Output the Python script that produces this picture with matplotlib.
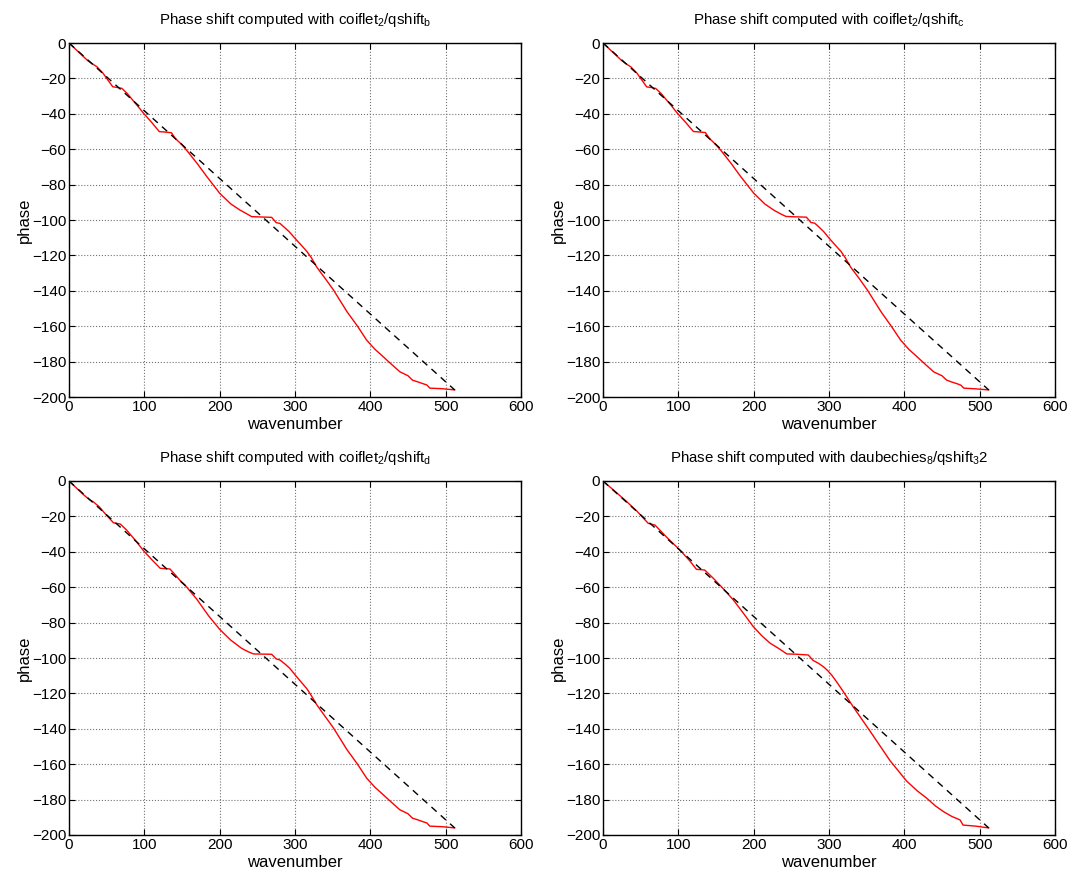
import numpy as np
import matplotlib
matplotlib.use("Agg")
import matplotlib.pyplot as plt

plt.rcParams["font.family"] = ["Liberation Sans", "DejaVu Sans"]
plt.rcParams["mathtext.default"] = "regular"

# end of the ideal (linear) phase line
LINE_X = [0, 512]
LINE_Y = [0, -196]

TITLES = [
    r"Phase shift computed with coiflet$_2$/qshift$_b$",
    r"Phase shift computed with coiflet$_2$/qshift$_c$",
    r"Phase shift computed with coiflet$_2$/qshift$_d$",
    r"Phase shift computed with daubechies$_8$/qshift$_3$2",
]

# coiflet2 / qshift_b
x_b = [0, 10, 20, 25, 30, 37, 45, 58, 65, 70, 77, 88, 99, 110, 120, 125, 136, 141,
       150, 156, 170, 183, 200, 215, 227, 236, 242.5, 255, 269, 275, 280, 285, 292,
       302, 310, 316, 322, 329, 340, 351, 369, 383, 395, 406, 417, 428, 439, 450,
       456, 462, 470, 475, 479, 495, 512]
y_b = [0, -4, -8, -10, -11.5, -13.4, -17, -24.7, -25.2, -25.6, -28.4, -34, -39.7,
       -45, -50.1, -50.2, -50.7, -53.9, -57.5, -60.5, -68, -75.5, -84.9, -91, -94.4,
       -96.5, -98.1, -98.3, -98.5, -101.5, -101.9, -103.8, -106.5, -111.3, -115,
       -117.9, -121.5, -126.7, -133, -139.5, -151.8, -160, -167.8, -173, -177.2,
       -181.5, -185.7, -188, -190.5, -191.3, -192.5, -193.2, -195, -195.3, -196]

# coiflet2 / qshift_c
x_c = [0, 10, 20, 25, 30, 37, 45, 58, 65, 70, 77, 88, 99, 110, 120, 126, 136, 141,
       150, 156, 170, 183, 200, 215, 227, 236, 243, 255, 270, 276, 281, 286, 293,
       302, 310, 316, 322, 329, 340, 351, 369, 383, 395, 406, 417, 428, 439, 450,
       456, 462, 470, 475, 479, 495, 512]
y_c = [0, -4, -8, -10, -11.6, -13.5, -17, -24.8, -25.2, -25.7, -28.5, -34, -39.8,
       -45, -50.0, -50.2, -50.6, -53.8, -57.5, -60.4, -68, -75.6, -84.8, -91, -94.5,
       -96.6, -98.0, -98.2, -98.4, -101.4, -101.8, -103.7, -106.6, -111.2, -115,
       -117.8, -121.6, -126.8, -133, -139.6, -151.8, -160.2, -167.8, -173.1, -177.3,
       -181.6, -185.8, -188, -190.4, -191.4, -192.5, -193.3, -195, -195.4, -196]

# coiflet2 / qshift_d
x_d = [0, 10, 20, 27, 32, 40, 48, 59, 64, 68, 76, 88, 99, 110, 121, 127, 134, 140,
       147, 154, 170, 185, 200, 215, 229, 238, 245, 257, 269, 275, 280, 287, 293,
       302, 310, 316, 322, 329, 340, 351, 369, 383, 395, 406, 417, 428, 439, 450,
       456, 462, 470, 475, 479, 495, 512]
y_d = [0, -4, -8, -10.5, -11.7, -14.5, -18.5, -23.6, -24.0, -24.3, -27.5, -33.5,
       -39.4, -44.5, -49.3, -49.5, -49.7, -52.5, -56, -58.8, -67, -76, -83.8, -90,
       -94.5, -96.5, -97.7, -97.8, -97.9, -100.5, -101.1, -103.5, -105.8, -110.5,
       -114.5, -117.5, -121.5, -126.5, -133, -139.5, -151.8, -160, -167.8, -173,
       -177.2, -181.5, -185.7, -188, -190.5, -191.3, -192.5, -193.2, -195, -195.3,
       -196]

# daubechies8 / qshift_3 2
x_3 = [0, 15, 29, 45, 60, 65, 69, 85, 102, 115, 124, 130, 135, 146.5, 160, 173, 186,
       199.5, 211, 222, 229, 235, 244, 258, 272.5, 279, 286, 292.5, 298, 303.5, 311,
       319, 332, 354, 381, 403, 417, 430, 441, 452, 463, 474, 478, 495, 512]
y_3 = [0, -5.5, -10.7, -17, -23.9, -24.5, -24.9, -32, -39, -45, -49.9, -50.1, -50.3,
       -55, -61, -67.2, -74.5, -82.3, -87.5, -91.7, -93.5, -95.1, -97.7, -97.9, -98.3,
       -101.4, -103, -104.9, -107, -109.6, -114, -119, -127.5, -141, -158, -169.5,
       -175, -179.3, -183.5, -186.8, -189.5, -191.5, -194.4, -195, -196]

curves = [(x_b, y_b), (x_c, y_c), (x_d, y_d), (x_3, y_3)]

W, H = 1072, 872
fig = plt.figure(figsize=(W / 100, H / 100), dpi=100)

# axes boxes in pixels: left, top, right, bottom
boxes = [(69, 43, 521, 397), (603, 43, 1055, 397),
         (69, 481, 521, 835), (603, 481, 1055, 835)]

for (l, t, r, b), title, (cx, cy) in zip(boxes, TITLES, curves):
    ax = fig.add_axes([l / W, 1 - b / H, (r - l) / W, (b - t) / H])
    ax.plot(cx, cy, color="red", linewidth=1.0, zorder=3)
    ax.plot(LINE_X, LINE_Y, color="black", linestyle=(0, (5, 4)), linewidth=1.0, zorder=4)
    ax.set_xlim(0, 600)
    ax.set_ylim(-200, 0)
    ax.set_xticks(np.arange(0, 601, 100))
    ax.set_yticks(np.arange(-200, 1, 20))
    ax.grid(True, linestyle=":", color="0.45", linewidth=0.8)
    ax.tick_params(direction="in", top=True, right=True, length=4, labelsize=11, pad=2)
    for s in ax.spines.values():
        s.set_linewidth(1.0)
    ax.set_title(title, fontsize=10.8, pad=14)
    ax.set_xlabel("wavenumber", fontsize=12, labelpad=2)
    ax.set_ylabel("phase", fontsize=12, labelpad=0)

fig.savefig("out.png", dpi=100)
